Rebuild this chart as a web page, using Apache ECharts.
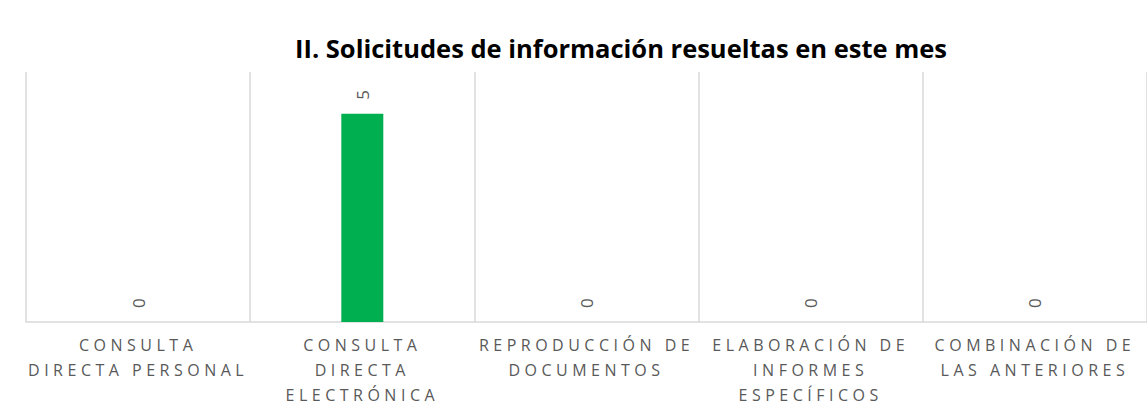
<!DOCTYPE html>
<html>
<head>
<meta charset="utf-8">
<script src="https://cdn.jsdelivr.net/npm/echarts@6/dist/echarts.min.js"></script>
<style>
html,body{margin:0;padding:0;background:#fff;}
#chart{width:1147px;height:415px;}
</style>
</head>
<body>
<div id="chart"></div>
<script>
const title = 'II. Solicitudes de información resueltas en este mes';
const categories = ['Consulta directa personal', 'Consulta directa electrónica', 'Reproducción de documentos', 'Elaboración de informes específicos', 'Combinación de las anteriores'];
const tickLabels = ['CONSULTA\nDIRECTA PERSONAL', 'CONSULTA\nDIRECTA\nELECTRÓNICA', 'REPRODUCCIÓN DE\nDOCUMENTOS', 'ELABORACIÓN DE\nINFORMES\nESPECÍFICOS', 'COMBINACIÓN DE\nLAS ANTERIORES'];
const values = [0, 5, 0, 0, 0];

const chart = echarts.init(document.getElementById('chart'), null, {renderer: 'svg'});
chart.setOption({
  animation: false,
  title: {
    text: title, left: 616, top: 30, textAlign: 'center',
    textStyle: {fontFamily: 'Open Sans', fontWeight: 'bold', fontSize: 25.5, color: '#000'}
  },
  grid: {left: 26, right: 0, top: 72, bottom: 93},
  xAxis: {
    type: 'category', data: categories,
    axisLine: {lineStyle: {color: '#d9d9d9', width: 1.5}},
    axisTick: {show: false},
    splitLine: {show: true, lineStyle: {color: '#d9d9d9', width: 1.5}},
    axisLabel: {
      interval: 0, margin: 10, color: '#595959', fontFamily: 'Open Sans', fontSize: 16, lineHeight: 25,
      formatter: (v, i) => tickLabels[i]
    }
  },
  yAxis: {type: 'value', min: 0, max: 6, show: false, splitLine: {show: false}},
  series: [{
    type: 'bar', data: values, barWidth: 42,
    itemStyle: {color: '#00B050'},
    label: {
      show: true, position: 'top', rotate: 90, align: 'left', verticalAlign: 'middle', distance: 14,
      color: '#595959', fontFamily: 'Open Sans', fontSize: 17
    }
  }]
});
const lines = new Set(tickLabels.flatMap(s => s.split('\n')));
function spread() {
  document.querySelectorAll('#chart text').forEach(t => {
    if (lines.has(t.textContent.trim())) t.setAttribute('letter-spacing', '4.5');
  });
}
chart.on('finished', spread);
spread();
</script>
</body>
</html>
